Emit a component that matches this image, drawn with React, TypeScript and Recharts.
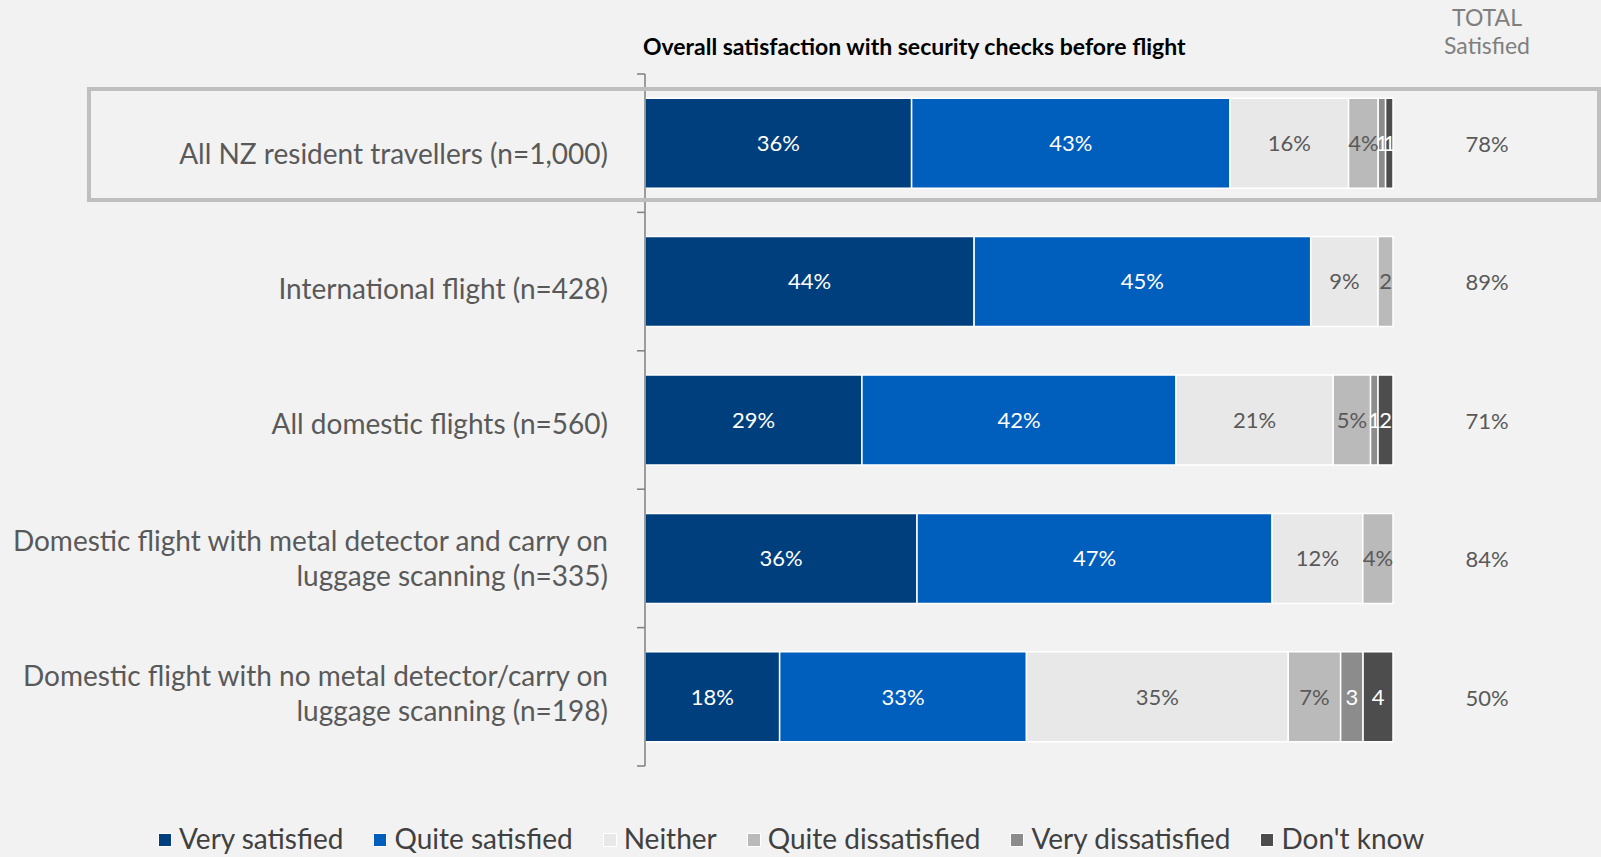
import React from 'react';
import { BarChart, Bar, XAxis, YAxis, LabelList, Legend } from 'recharts';

const categories = [
  'All NZ resident travellers (n=1,000)',
  'International flight (n=428)',
  'All domestic flights (n=560)',
  'Domestic flight with metal detector and carry on\nluggage scanning (n=335)',
  'Domestic flight with no metal detector/carry on\nluggage scanning (n=198)',
];
const verySatisfied = [36, 44, 29, 36, 18];
const quiteSatisfied = [43, 45, 42, 47, 33];
const neither = [16, 9, 21, 12, 35];
const quiteDissatisfied = [4, 2, 5, 4, 7];
const veryDissatisfied = [1, 0, 1, 0, 3];
const dontKnow = [1, 0, 2, 0, 4];
const totalSatisfied = [78, 89, 71, 84, 50];

const seriesNames = ['Very satisfied', 'Quite satisfied', 'Neither', 'Quite dissatisfied', 'Very dissatisfied', "Don't know"];
const seriesKeys = ['vs', 'qs', 'ne', 'qd', 'vd', 'dk'];
const seriesColors = ['#003f7d', '#005ebd', '#e8e8e8', '#bababa', '#8c8c8c', '#4d4d4d'];
const labelColors = ['#ffffff', '#ffffff', '#595959', '#595959', '#ffffff', '#ffffff'];
const noPercent = [false, false, false, false, true, true];

const data = categories.map((name, i) => ({
  name,
  vs: verySatisfied[i],
  qs: quiteSatisfied[i],
  ne: neither[i],
  qd: quiteDissatisfied[i],
  vd: veryDissatisfied[i],
  dk: dontKnow[i],
  total: totalSatisfied[i],
}));

const W = 1601;
const H = 857;
const MARGIN = { top: 74, right: 208, bottom: 91, left: 0 };
const YAXIS_W = 645;
const BAND = (H - MARGIN.top - MARGIN.bottom) / categories.length;
const FONT = 'Lato, "Open Sans", sans-serif';
const TOTAL_X = 1487;

function CatTick(props: any) {
  const { x, y, payload, index } = props;
  const lines = String(payload.value).split('\n');
  const n = lines.length;
  const ly = y + 11 - 3.6 * index;
  return (
    <g>
      <line x1={x - 8} x2={x} y1={y - BAND / 2} y2={y - BAND / 2} stroke="#7f7f7f" strokeWidth={1.5} />
      {index === categories.length - 1 && (
        <line x1={x - 8} x2={x} y1={y + BAND / 2} y2={y + BAND / 2} stroke="#7f7f7f" strokeWidth={1.5} />
      )}
      <text textAnchor="end" fill="#595959" fontSize={28} fontFamily={FONT}>
        {lines.map((l, i) => (
          <tspan key={i} x={x - 37} y={ly + (i - (n - 1) / 2) * 35} dy="0.35em">{l}</tspan>
        ))}
      </text>
    </g>
  );
}

function TotalLabel(props: any) {
  const { y, height, value } = props;
  return (
    <text x={TOTAL_X} y={y + height / 2 + 1} dy="0.35em" textAnchor="middle" fill="#595959" fontSize={22} fontFamily={FONT}>
      {value}%
    </text>
  );
}

function LegendContent() {
  return (
    <div style={{ display: 'flex', alignItems: 'center', fontFamily: FONT, fontSize: 28, color: '#404040', paddingLeft: 158 }}>
      {seriesNames.map((n, i) => (
        <div key={n} style={{ display: 'flex', alignItems: 'center', marginRight: 30 }}>
          <span style={{ display: 'inline-block', width: 12, height: 12, background: seriesColors[i], border: '1px solid #fff', marginRight: 7, marginTop: 3 }} />
          <span>{n}</span>
        </div>
      ))}
    </div>
  );
}

export default function App() {
  return (
    <div style={{ position: 'absolute', left: 0, top: 0, width: W, height: H, background: '#f2f2f2', overflow: 'hidden' }}>
      <BarChart
        width={W}
        height={H}
        data={data}
        layout="vertical"
        stackOffset="expand"
        margin={MARGIN}
        barCategoryGap="17.5%"
      >
        <XAxis type="number" hide domain={[0, 1]} />
        <YAxis
          type="category"
          dataKey="name"
          width={YAXIS_W}
          axisLine={{ stroke: '#7f7f7f', strokeWidth: 1.5 }}
          tickLine={false}
          tickSize={0}
          tickMargin={0}
          tick={<CatTick />}
          interval={0}
        />
        {seriesKeys.map((k, si) => (
          <Bar key={k} dataKey={k} name={seriesNames[si]} stackId="a" fill={seriesColors[si]} stroke="#ffffff" strokeWidth={1.5} isAnimationActive={false}>
            <LabelList
              dataKey={k}
              position="center"
              fill={labelColors[si]}
              fontSize={22}
              fontFamily={FONT}
              formatter={(v: any) => (!v ? '' : noPercent[si] || v < 3 ? `${v}` : `${v}%`)}
            />
            {si === 0 && <LabelList dataKey="total" content={<TotalLabel />} />}
          </Bar>
        ))}
        <Legend
          layout="horizontal"
          verticalAlign="middle"
          align="center"
          content={<LegendContent />}
          wrapperStyle={{ left: 0, top: 821, width: W }}
        />
      </BarChart>
      <div style={{ position: 'absolute', left: 643, top: 32, fontFamily: FONT, fontWeight: 700, fontSize: 23, color: '#000', whiteSpace: 'nowrap' }}>
        Overall satisfaction with security checks before flight
      </div>
      <div style={{ position: 'absolute', left: TOTAL_X - 70, width: 140, top: 3, textAlign: 'center', fontFamily: FONT, fontSize: 23, color: '#7f7f7f', lineHeight: '28px' }}>
        TOTAL<br />Satisfied
      </div>
      <div style={{ position: 'absolute', left: 87, top: 87, width: 1506, height: 107, border: '4px solid #bfbfbf', pointerEvents: 'none' }} />
    </div>
  );
}
